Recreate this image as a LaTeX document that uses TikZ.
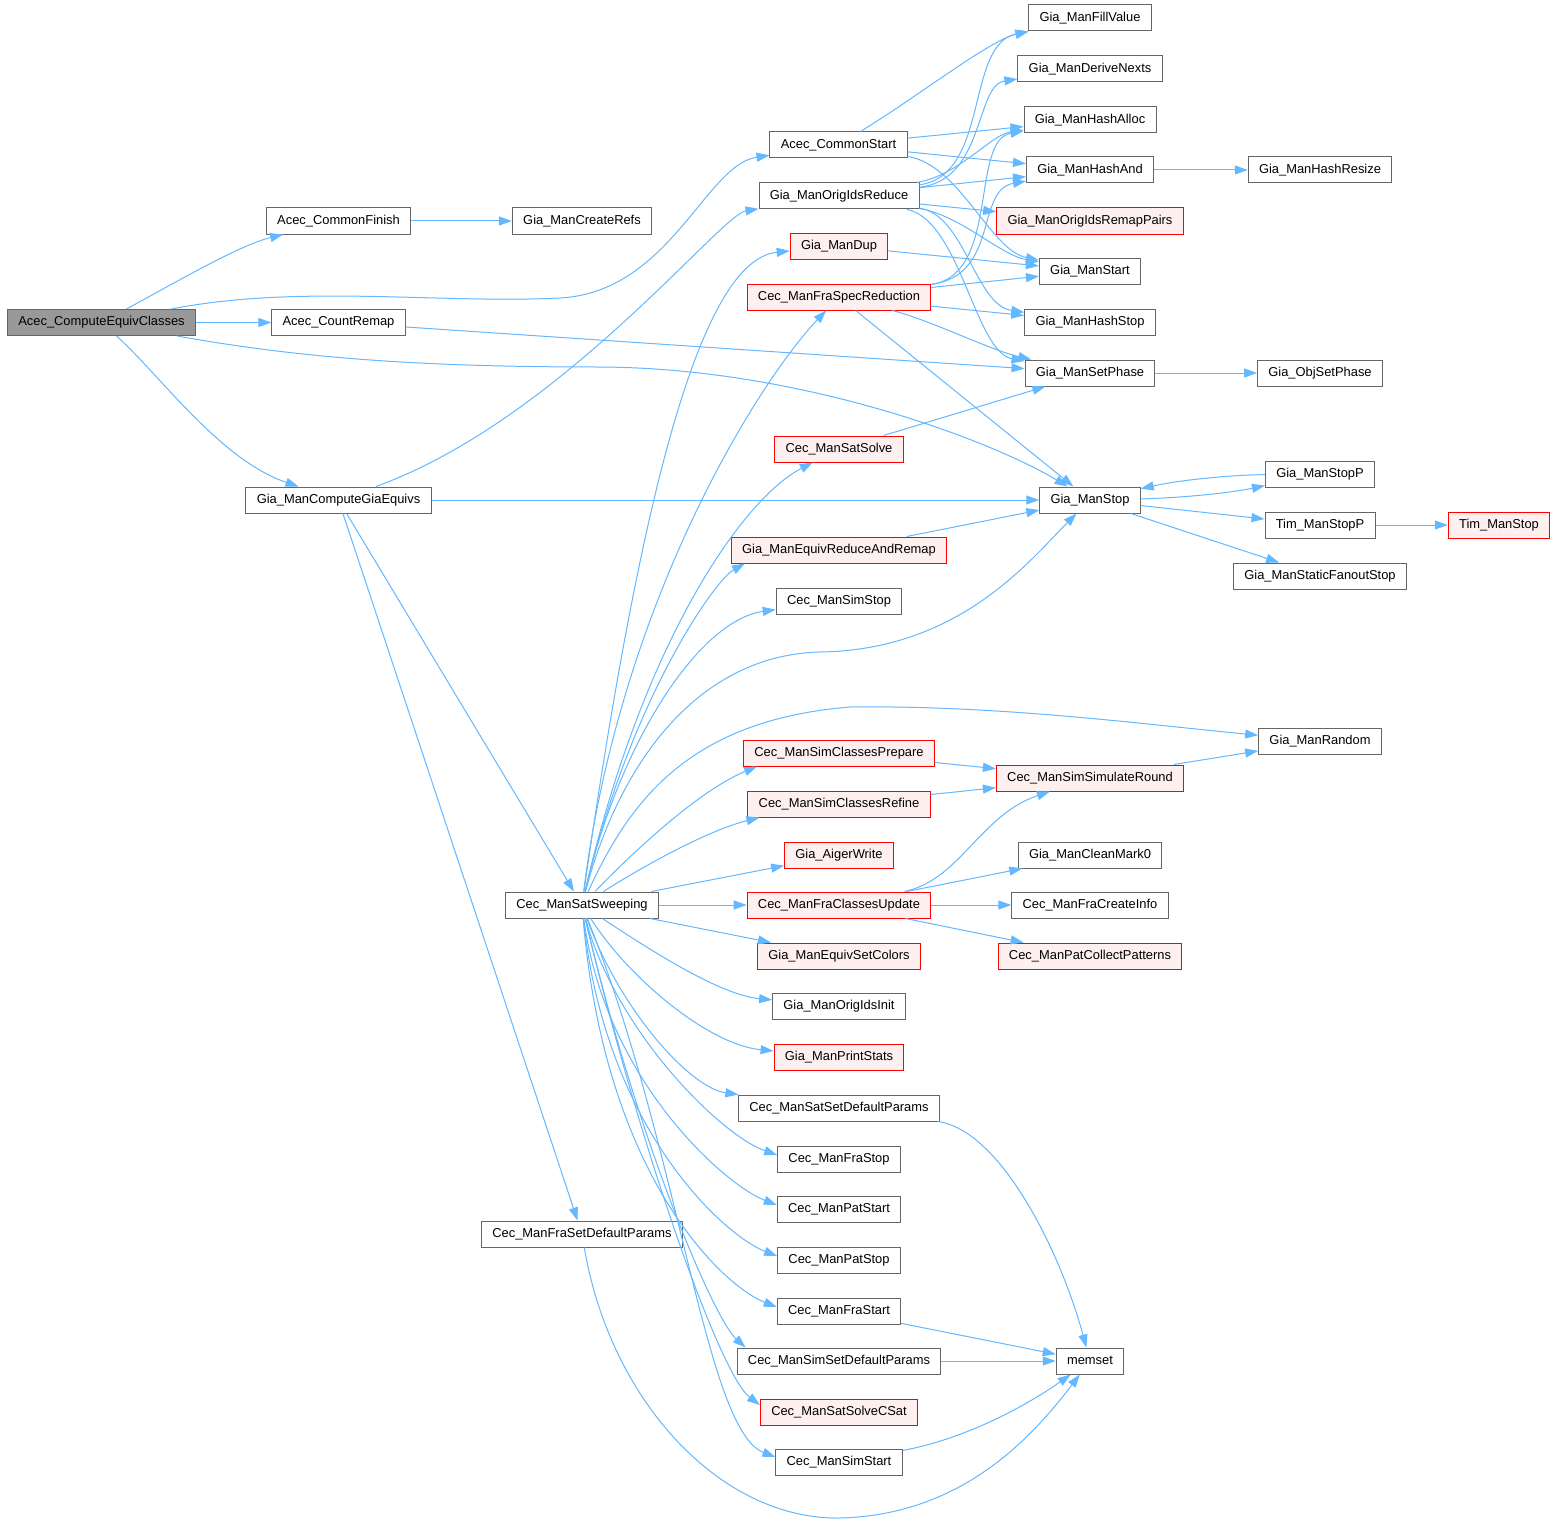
\documentclass[tikz,border=0pt]{standalone}
\usepackage{fontspec}
\setmainfont{Liberation Sans}
\usetikzlibrary{arrows.meta}
\definecolor{edgec}{HTML}{63B8FF}
\definecolor{nborder}{HTML}{666666}
\definecolor{rfill}{HTML}{FFF0F0}
\definecolor{rootfill}{HTML}{999999}
\begin{document}
\begin{tikzpicture}[x=1pt,y=-1pt,
  fn/.style={draw=nborder,fill=white,line width=1pt,minimum height=26pt,inner xsep=10.8pt,inner ysep=0pt,
    font=\fontsize{12.9}{15}\selectfont,text height=9.4pt,text depth=2.6pt},
  rootnode/.style={fn,fill=rootfill},
  hot/.style={fn,draw=red,fill=rfill},
  call/.style={draw=edgec,line width=1pt,-{Triangle[length=13pt,width=9pt]}}]
\fill[white] (0,0) rectangle (1563,1525);
\useasboundingbox (0,0) rectangle (1563,1525);

% nodes
\node[rootnode] (A) at (101.5,322.5) {Acec\_ComputeEquivClasses};
\node[fn] (CF) at (338.5,221) {Acec\_CommonFinish};
\node[fn] (CR) at (338.5,322.5) {Acec\_CountRemap};
\node[fn] (G) at (338.5,500) {Gia\_ManComputeGiaEquivs};
\node[fn] (FD) at (582,1234) {Cec\_ManFraSetDefaultParams};
\node[fn] (SW) at (582,905) {Cec\_ManSatSweeping};
\node[fn] (CRefs) at (582,221) {Gia\_ManCreateRefs};
\node[fn] (CS) at (838.5,145) {Acec\_CommonStart};
\node[fn] (OR) at (839,196) {Gia\_ManOrigIdsReduce};
\node[hot] (Dup) at (839,246) {Gia\_ManDup};
\node[hot] (FS) at (839,297) {Cec\_ManFraSpecReduction};
\node[hot] (SS) at (839,449) {Cec\_ManSatSolve};
\node[hot] (ERR) at (839,550) {Gia\_ManEquivReduceAndRemap};
\node[fn] (SimStop) at (839,601) {Cec\_ManSimStop};
\node[hot] (SCP) at (839,753) {Cec\_ManSimClassesPrepare};
\node[hot] (SCR) at (839,804) {Cec\_ManSimClassesRefine};
\node[hot] (AW) at (839,855) {Gia\_AigerWrite};
\node[hot] (FCU) at (839,905) {Cec\_ManFraClassesUpdate};
\node[hot] (ESC) at (839,956) {Gia\_ManEquivSetColors};
\node[fn] (OII) at (839,1006) {Gia\_ManOrigIdsInit};
\node[hot] (PS) at (839,1057) {Gia\_ManPrintStats};
\node[fn] (SSDP) at (839,1108) {Cec\_ManSatSetDefaultParams};
\node[fn] (FraStop) at (839,1159) {Cec\_ManFraStop};
\node[fn] (PatStart) at (839,1209) {Cec\_ManPatStart};
\node[fn] (PatStop) at (839,1260) {Cec\_ManPatStop};
\node[fn] (FraStart) at (839,1311) {Cec\_ManFraStart};
\node[fn] (SimDP) at (839,1361) {Cec\_ManSimSetDefaultParams};
\node[hot] (CSat) at (839,1412) {Cec\_ManSatSolveCSat};
\node[fn] (SimStart) at (839,1462) {Cec\_ManSimStart};
\node[fn] (FV) at (1090,18) {Gia\_ManFillValue};
\node[fn] (DN) at (1090,69) {Gia\_ManDeriveNexts};
\node[fn] (HA) at (1090,120) {Gia\_ManHashAlloc};
\node[fn] (HAnd) at (1090,170) {Gia\_ManHashAnd};
\node[hot] (RP) at (1090,221) {Gia\_ManOrigIdsRemapPairs};
\node[fn] (Start) at (1090,271) {Gia\_ManStart};
\node[fn] (HS) at (1090,322) {Gia\_ManHashStop};
\node[fn] (SP) at (1090,373) {Gia\_ManSetPhase};
\node[fn] (GS) at (1090,500) {Gia\_ManStop};
\node[fn] (Rand) at (1320,741) {Gia\_ManRandom};
\node[hot] (SSR) at (1090,778) {Cec\_ManSimSimulateRound};
\node[fn] (CM) at (1090,855) {Gia\_ManCleanMark0};
\node[fn] (FCI) at (1090,905) {Cec\_ManFraCreateInfo};
\node[hot] (PCP) at (1090,956) {Cec\_ManPatCollectPatterns};
\node[fn] (MS) at (1090,1361) {memset};
\node[fn] (HR) at (1320,170) {Gia\_ManHashResize};
\node[fn] (OSP) at (1320,373) {Gia\_ObjSetPhase};
\node[fn] (StopP) at (1320,474) {Gia\_ManStopP};
\node[fn] (TSP) at (1320,525) {Tim\_ManStopP};
\node[fn] (SFS) at (1320,576) {Gia\_ManStaticFanoutStop};
\node[hot] (TS) at (1499,525) {Tim\_ManStop};

% root edges
\draw[call] (A) .. controls (180,280) and (240,245) .. (CF);
\draw[call] (A) .. controls (300,284) and (440,304) .. (560,298) .. controls (670,292) and (705,165) .. (CS);
\draw[call] (A) -- (CR);
\draw[call] (A) .. controls (300,358) and (420,367) .. (600,367) .. controls (800,368) and (990,440) .. (GS);
\draw[call] (A) .. controls (160,375) and (220,460) .. (G);
\draw[call] (CF) -- (CRefs);
\draw[call] (CR) -- (SP);
\draw[call] (G) .. controls (560,420) and (720,215) .. (OR);
\draw[call] (G) -- (GS);
\draw[call] (G) -- (SW);
\draw[call] (G) -- (FD);
\draw[call] (FD) .. controls (610,1400) and (720,1520) .. (840,1518) .. controls (960,1515) and (1030,1440) .. (MS);

% Acec_CommonStart
\draw[call] (CS) .. controls (920,95) and (990,40) .. (FV);
\draw[call] (CS) -- (HA);
\draw[call] (CS) -- (HAnd);
\draw[call] (CS) .. controls (960,165) and (990,250) .. (Start);

% Gia_ManOrigIdsReduce
\draw[call] (OR) .. controls (990,175) and (965,45) .. (FV);
\draw[call] (OR) .. controls (985,180) and (975,85) .. (DN);
\draw[call] (OR) .. controls (960,175) and (990,135) .. (HA);
\draw[call] (OR) -- (HAnd);
\draw[call] (OR) -- (RP);
\draw[call] (OR) .. controls (960,215) and (1000,255) .. (Start);
\draw[call] (OR) .. controls (965,215) and (975,305) .. (HS);
\draw[call] (OR) .. controls (960,220) and (975,352) .. (SP);

\draw[call] (Dup) -- (Start);

% Cec_ManFraSpecReduction
\draw[call] (FS) -- (Start);
\draw[call] (FS) -- (HS);
\draw[call] (FS) .. controls (930,320) and (990,350) .. (SP);
\draw[call] (FS) -- (GS);
\draw[call] (FS) .. controls (1000,275) and (970,140) .. (HA);
\draw[call] (FS) .. controls (1000,275) and (975,190) .. (HAnd);

\draw[call] (SS) -- (SP);
\draw[call] (ERR) -- (GS);
\draw[call] (SP) -- (OSP);
\draw[call] (HAnd) -- (HR);
\draw[call] (GS) .. controls (1180,498) and (1230,493) .. (StopP);
\draw[call] (StopP) .. controls (1230,475) and (1180,480) .. (GS);
\draw[call] (GS) -- (TSP);
\draw[call] (GS) -- (SFS);
\draw[call] (TSP) -- (TS);
\draw[call] (SCP) -- (SSR);
\draw[call] (SCR) -- (SSR);
\draw[call] (SSR) -- (Rand);
\draw[call] (FCU) .. controls (960,880) and (980,815) .. (SSR);
\draw[call] (FCU) -- (CM);
\draw[call] (FCU) -- (FCI);
\draw[call] (FCU) -- (PCP);
\draw[call] (SSDP) .. controls (1000,1130) and (1060,1250) .. (MS);
\draw[call] (FraStart) -- (MS);
\draw[call] (SimDP) -- (MS);
\draw[call] (SimStart) .. controls (960,1440) and (1020,1410) .. (MS);

% Cec_ManSatSweeping
\draw[call] (SW) .. controls (640,500) and (700,260) .. (Dup);
\draw[call] (SW) .. controls (620,600) and (760,380) .. (FS);
\draw[call] (SW) .. controls (640,650) and (740,500) .. (SS);
\draw[call] (SW) .. controls (630,700) and (715,580) .. ([xshift=14pt]ERR.south west);
\draw[call] (SW) .. controls (620,740) and (700,620) .. (SimStop);
\draw[call] (SW) .. controls (620,760) and (700,655) .. (820,652) .. controls (960,650) and (1030,560) .. (GS);
\draw[call] (SW) .. controls (630,800) and (690,720) .. (850,707) .. controls (1000,705) and (1150,725) .. (Rand);
\draw[call] (SW) .. controls (635,850) and (700,790) .. ([xshift=14pt]SCP.south west);
\draw[call] (SW) .. controls (650,862) and (710,830) .. ([xshift=12pt]SCR.south west);
\draw[call] (SW) -- (AW);
\draw[call] (SW) -- (FCU);
\draw[call] (SW) -- (ESC);
\draw[call] (SW) .. controls (650,950) and (720,995) .. (OII);
\draw[call] (SW) .. controls (630,980) and (710,1045) .. (PS);
\draw[call] (SW) .. controls (620,1010) and (690,1088) .. (SSDP);
\draw[call] (SW) .. controls (615,1030) and (720,1135) .. ([yshift=4pt]FraStop.west);
\draw[call] (SW) .. controls (605,1080) and (725,1185) .. ([yshift=4pt]PatStart.west);
\draw[call] (SW) .. controls (605,1130) and (725,1236) .. ([yshift=4pt]PatStop.west);
\draw[call] (SW) .. controls (605,1180) and (725,1287) .. ([yshift=4pt]FraStart.west);
\draw[call] (SW) .. controls (640,1150) and (715,1320) .. ([xshift=9pt]SimDP.north west);
\draw[call] (SW) .. controls (640,1150) and (720,1375) .. ([yshift=7pt]CSat.west);
\draw[call] (SW) .. controls (680,1150) and (705,1430) .. ([yshift=5pt]SimStart.west);
\end{tikzpicture}
\end{document}
